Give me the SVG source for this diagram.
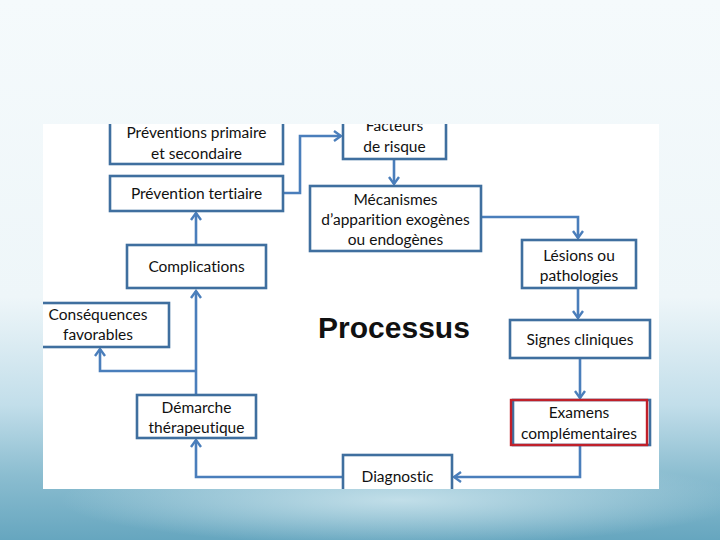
<svg xmlns="http://www.w3.org/2000/svg" width="720" height="540" viewBox="0 0 720 540">
  <defs>
    <linearGradient id="bg" x1="0" y1="0" x2="0" y2="1">
      <stop offset="0" stop-color="#f5fafc"/>
      <stop offset="0.55" stop-color="#eef6f9"/>
      <stop offset="0.75" stop-color="#c2deea"/>
      <stop offset="0.88" stop-color="#8bbdd0"/>
      <stop offset="1" stop-color="#66a6bf"/>
    </linearGradient>
    <radialGradient id="swoosh" cx="0.5" cy="0.5" r="0.5">
      <stop offset="0" stop-color="#c9e3ec" stop-opacity="0.9"/>
      <stop offset="1" stop-color="#c9e3ec" stop-opacity="0"/>
    </radialGradient>
    <marker id="arr" viewBox="0 0 12 12" refX="10" refY="6" markerWidth="12" markerHeight="12" markerUnits="userSpaceOnUse" orient="auto">
      <polyline points="3,1 10,6 3,11" fill="none" stroke="#4a7ebb" stroke-width="2.4"/>
    </marker>
    <clipPath id="panel">
      <rect x="43" y="124" width="616" height="365"/>
    </clipPath>
  </defs>
  <style>
    .box { fill: #ffffff; stroke: #3f6f9f; stroke-width: 2.6; }
    .red { fill: none; stroke: #c0202a; stroke-width: 2.4; }
    .t { font-family: Lato, "Liberation Sans", sans-serif; font-size: 15.5px; fill: #111111; text-anchor: middle; font-variant-ligatures: none; font-feature-settings: "liga" 0; }
    .title { font-family: "Liberation Sans", sans-serif; font-weight: bold; font-size: 30px; fill: #111111; text-anchor: middle; }
    .c { fill: none; stroke: #4a7ebb; stroke-width: 2.6; }
  </style>

  <rect x="0" y="0" width="720" height="540" fill="url(#bg)"/>
  <ellipse cx="400" cy="500" rx="340" ry="45" fill="url(#swoosh)"/>
  <rect x="43" y="124" width="616" height="365" fill="#ffffff"/>

  <g clip-path="url(#panel)">
    <g id="connectors">
      <polyline class="c" points="283,193 300,193 300,136 341,136" marker-end="url(#arr)"/>
      <line class="c" x1="394" y1="159" x2="394" y2="184" marker-end="url(#arr)"/>
      <polyline class="c" points="481,217 578,217 578,238" marker-end="url(#arr)"/>
      <line class="c" x1="578" y1="288" x2="578" y2="318" marker-end="url(#arr)"/>
      <line class="c" x1="580" y1="358" x2="580" y2="398" marker-end="url(#arr)"/>
      <polyline class="c" points="580,445 580,477 454,477" marker-end="url(#arr)"/>
      <polyline class="c" points="343,477 196,477 196,440" marker-end="url(#arr)"/>
      <line class="c" x1="196" y1="395" x2="196" y2="291" marker-end="url(#arr)"/>
      <polyline class="c" points="196,371 100,371 100,349" marker-end="url(#arr)"/>
      <line class="c" x1="196" y1="245" x2="196" y2="213" marker-end="url(#arr)"/>
    </g>

    <g id="preventions-primaire">
      <rect class="box" x="110" y="100" width="173" height="64"/>
      <text class="t" x="196.5" y="138">Préventions primaire</text>
      <text class="t" x="196.5" y="159">et secondaire</text>
    </g>
    <g id="facteurs">
      <rect class="box" x="343" y="100" width="103" height="59"/>
      <text class="t" x="394.5" y="131">Facteurs</text>
      <text class="t" x="394.5" y="152">de risque</text>
    </g>
    <g id="prevention-tertiaire">
      <rect class="box" x="110" y="176" width="173" height="35"/>
      <text class="t" x="196.5" y="199">Prévention tertiaire</text>
    </g>
    <g id="mecanismes">
      <rect class="box" x="310" y="186" width="171" height="65"/>
      <text class="t" x="395.5" y="205">Mécanismes</text>
      <text class="t" x="395.5" y="225">d’apparition exogènes</text>
      <text class="t" x="395.5" y="245">ou endogènes</text>
    </g>
    <g id="lesions">
      <rect class="box" x="522" y="240" width="114" height="48"/>
      <text class="t" x="579" y="261">Lésions ou</text>
      <text class="t" x="579" y="281">pathologies</text>
    </g>
    <g id="signes">
      <rect class="box" x="510" y="320" width="140" height="38"/>
      <text class="t" x="580" y="345">Signes cliniques</text>
    </g>
    <g id="examens">
      <rect class="box" x="513" y="400" width="137" height="45"/>
      <rect class="red" x="511" y="400" width="136" height="45"/>
      <text class="t" x="579" y="418">Examens</text>
      <text class="t" x="579" y="439">complémentaires</text>
    </g>
    <g id="diagnostic">
      <rect class="box" x="343" y="455" width="109" height="50"/>
      <text class="t" x="397.5" y="482">Diagnostic</text>
    </g>
    <g id="demarche">
      <rect class="box" x="137" y="395" width="119" height="43"/>
      <text class="t" x="196.5" y="413">Démarche</text>
      <text class="t" x="196.5" y="433">thérapeutique</text>
    </g>
    <g id="complications">
      <rect class="box" x="127" y="245" width="139" height="43"/>
      <text class="t" x="196.5" y="272">Complications</text>
    </g>
    <g id="consequences">
      <rect class="box" x="30" y="303" width="139" height="44"/>
      <text class="t" x="98" y="320">Conséquences</text>
      <text class="t" x="98" y="340">favorables</text>
    </g>
    <g id="titre">
      <text class="title" x="394" y="338">Processus</text>
    </g>
  </g>
</svg>
